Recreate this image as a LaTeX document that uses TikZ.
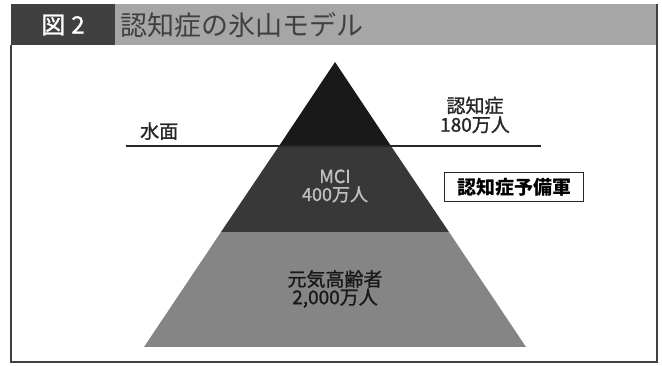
\documentclass[tikz,border=0pt]{standalone}
\usepackage{fontspec}
\setmainfont{Noto Sans CJK JP}
\newfontfamily\jpmed{Noto Sans CJK JP}[FakeBold=1.2]
\begin{document}
\begin{tikzpicture}[x=1pt,y=-1pt,
  lbl/.style={font=\jpmed\fontsize{19}{21}\selectfont, inner sep=0pt, text=black!85},
  plbl/.style={font=\jpmed\fontsize{18}{21}\selectfont, inner sep=0pt, align=center},
  frame/.style={draw=black!75, line width=1.6pt}]
\useasboundingbox (0,0) rectangle (662,366);
\fill[white] (0,0) rectangle (662,366);
% header
\fill[black!35] (115,4) rectangle (656,45);
\fill[black!75] (11,4) rectangle (115,45);
\node[font=\jpmed\fontsize{24}{26}\selectfont, text=white, inner sep=0pt] (fig) at (63,25) {図\hspace{6pt}2};
\node[font=\fontsize{27}{30}\selectfont, text=black!75, anchor=west, inner sep=0pt] (title) at (120,25) {認知症の氷山モデル};
% frame
\draw[frame] (11,45) -- (11,362) -- (657,362) -- (657,4);
% pyramid
\coordinate (apex) at (335,62);
\coordinate (wl) at (279,146);
\coordinate (wr) at (391,146);
\coordinate (ml) at (221,232);
\coordinate (mr) at (449,232);
\coordinate (bl) at (144,347);
\coordinate (br) at (526,347);
\fill[black!48] (ml) -- (mr) -- (br) -- (bl) -- cycle;
\fill[black!78] (wl) -- (wr) -- (mr) -- (ml) -- cycle;
\fill[black!90] (apex) -- (wr) -- (wl) -- cycle;
% water line
\coordinate (wlineL) at (126,146);
\coordinate (wlineR) at (541,146);
\draw[black!85, line width=1.4pt] (wlineL) -- (wlineR);
\node[lbl, anchor=south west] (water) at (140,140) {水面};
% right labels
\node[lbl, align=center] (dem) at (475,115) {認知症\\[-2pt]180万人};
\node[draw=black!85, line width=1.3pt, font=\fontsize{19}{21}\selectfont\bfseries, inner xsep=6pt, inner ysep=3pt, minimum width=139pt, minimum height=29pt] (pre) at (514,187) {認知症予備軍};
% pyramid labels
\node[plbl, text=black!25] (mci) at (335,186) {MCI\\[-3pt]400万人};
\node[plbl, text=black!90, font=\jpmed\fontsize{19}{21}\selectfont] (gen) at (335,289) {元気高齢者\\[-3pt]2,000万人};
\end{tikzpicture}
\end{document}
